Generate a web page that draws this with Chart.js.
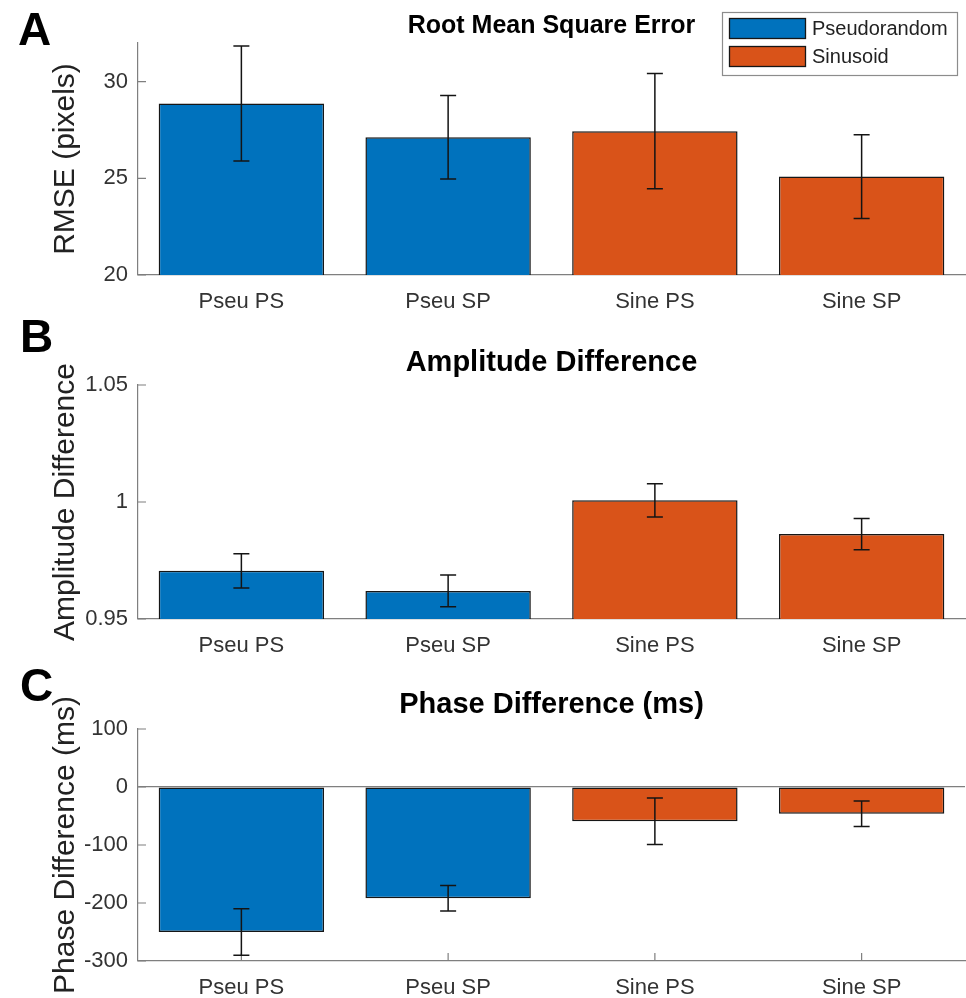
<!DOCTYPE html>
<html>
<head>
<meta charset="utf-8">
<script src="https://cdn.jsdelivr.net/npm/chart.js@4/dist/chart.umd.min.js"></script>
<style>
html,body{margin:0;padding:0;background:#fff;}
#wrap{position:relative;width:966px;height:998px;overflow:hidden;background:#fff;}
canvas{position:absolute;left:0;}
.panel{position:absolute;font-family:"Liberation Sans",Arial,Helvetica,sans-serif;font-weight:bold;font-size:46px;line-height:46px;color:#000;}
</style>
</head>
<body>
<div id="wrap">
  <canvas id="cA" width="966" height="330" style="top:0px"></canvas>
  <canvas id="cB" width="966" height="335" style="top:330px"></canvas>
  <canvas id="cC" width="966" height="333" style="top:665px"></canvas>
  <div class="panel" style="left:18px;top:6px">A</div>
  <div class="panel" style="left:20px;top:313px">B</div>
  <div class="panel" style="left:20px;top:662px">C</div>
</div>
<script>
// ---------- data ----------
const categories = ['Pseu PS', 'Pseu SP', 'Sine PS', 'Sine SP'];
const seriesNames = ['Pseudorandom', 'Sinusoid'];
const seriesOfCategory = [0, 0, 1, 1];

const rmseMean = [28.87, 27.13, 27.44, 25.09];
const rmseErr  = [2.97, 2.16, 2.98, 2.17];

const ampMean = [0.9706, 0.9620, 1.0007, 0.9863];
const ampErr  = [0.0073, 0.0068, 0.0071, 0.0067];

const phaseMean = [-250, -192, -59, -46];
const phaseErr  = [40, 22, 40, 22];

const rmseTicks = [20, 25, 30];
const rmseTickLabels = ['20', '25', '30'];
const ampTicks = [0.95, 1, 1.05];
const ampTickLabels = ['0.95', '1', '1.05'];
const phaseTicks = [-300, -200, -100, 0, 100];
const phaseTickLabels = ['-300', '-200', '-100', '0', '100'];

// ---------- style ----------
const FONT = '"Liberation Sans", Arial, Helvetica, sans-serif';
const seriesColors = ['#0072BD', '#D95319'];
const AXIS = '#7f7f7f';
const TEXT = '#333333';
Chart.defaults.font.family = FONT;

function makeDatasets(values) {
  return seriesNames.map((name, s) => ({
    label: name,
    data: values.map((v, i) => (seriesOfCategory[i] === s ? v : null)),
    backgroundColor: seriesColors[s],
    borderColor: '#161616',
    borderWidth: 1.5,
    borderSkipped: false,
    grouped: false,
    barPercentage: 0.8,
    categoryPercentage: 1.0
  }));
}

const decor = {
  id: 'decor',
  beforeDatasetsDraw(chart) {
    const {ctx, chartArea: a, scales: {x, y}} = chart;
    ctx.save();
    ctx.strokeStyle = AXIS;
    ctx.lineWidth = 1.2;
    ctx.beginPath();
    y.ticks.forEach(t => {
      const py = y.getPixelForValue(t.value);
      ctx.moveTo(a.left, py); ctx.lineTo(a.left + 8, py);
    });
    x.ticks.forEach((t, i) => {
      const px = x.getPixelForTick(i);
      ctx.moveTo(px, a.bottom); ctx.lineTo(px, a.bottom - 8);
    });
    ctx.stroke();
    ctx.restore();
  },
  afterDatasetsDraw(chart, args, opts) {
    const {ctx, scales: {x, y}} = chart;
    const means = opts.means, errs = opts.errors;
    if (!means) return;
    ctx.save();
    ctx.strokeStyle = '#141414';
    ctx.lineWidth = 1.5;
    means.forEach((m, i) => {
      const px = x.getPixelForValue(i);
      const top = y.getPixelForValue(m + errs[i]);
      const bot = y.getPixelForValue(m - errs[i]);
      ctx.beginPath();
      ctx.moveTo(px, top); ctx.lineTo(px, bot);
      ctx.moveTo(px - 8, top); ctx.lineTo(px + 8, top);
      ctx.moveTo(px - 8, bot); ctx.lineTo(px + 8, bot);
      ctx.stroke();
    });
    ctx.restore();
  },
  afterDraw(chart, args, opts) {
    if (!opts.legend) return;
    // legend box in the top-right corner, overlapping the title row
    const {ctx, chartArea: a} = chart;
    const ds = chart.data.datasets;
    const pad = 7, boxW = 77, boxH = 21, gap = 6, rowH = 21;
    ctx.save();
    ctx.font = '20px ' + FONT;
    let maxT = 0;
    ds.forEach(d => { maxT = Math.max(maxT, ctx.measureText(d.label).width); });
    const w = pad + boxW + gap + maxT + 9;
    const h = ds.length * rowH + (ds.length + 1) * pad;
    const left = Math.round(a.right - 8 - w);
    const top = Math.round(a.top - 31);
    ctx.fillStyle = '#ffffff';
    ctx.fillRect(left, top, w, h);
    ctx.strokeStyle = '#8c8c8c';
    ctx.lineWidth = 1.2;
    ctx.strokeRect(left + 0.5, top + 0.5, Math.round(w), Math.round(h));
    ds.forEach((d, i) => {
      const by = top + pad + i * (rowH + pad) - 1;
      ctx.fillStyle = d.backgroundColor;
      ctx.fillRect(left + pad, by, boxW, boxH);
      ctx.strokeStyle = d.borderColor;
      ctx.lineWidth = 1.3;
      ctx.strokeRect(left + pad + 0.5, by + 0.5, boxW - 1, boxH - 1);
      ctx.fillStyle = '#222';
      ctx.textBaseline = 'middle';
      ctx.textAlign = 'left';
      ctx.fillText(d.label, left + pad + boxW + gap, by + boxH / 2 + 1);
    });
    ctx.restore();
  }
};

function build(id, cfg) {
  const zeroLine = !!cfg.zeroLine;
  return new Chart(document.getElementById(id), {
    type: 'bar',
    data: { labels: categories, datasets: makeDatasets(cfg.means) },
    plugins: [decor],
    options: {
      responsive: false,
      animation: false,
      devicePixelRatio: 1,
      layout: { padding: { left: 0, right: 1, top: 0, bottom: 0 } },
      plugins: {
        legend: { display: false },
        tooltip: { enabled: false },
        title: {
          display: true,
          text: cfg.title,
          fullSize: false,
          color: '#000',
          font: { family: FONT, size: cfg.titleSize, weight: 'bold' },
          padding: cfg.titlePad
        },
        decor: { means: cfg.means, errors: cfg.errors, legend: !!cfg.legend }
      },
      scales: {
        x: {
          grid: { display: false },
          border: { display: true, color: AXIS, width: 1.2 },
          ticks: { font: { family: FONT, size: 22 }, color: TEXT, padding: 6, maxRotation: 0, autoSkip: false },
          afterFit: s => { s.height = cfg.xAxisHeight; }
        },
        y: {
          min: cfg.min,
          max: cfg.max,
          afterBuildTicks: s => { s.ticks = cfg.ticks.map(v => ({ value: v })); },
          afterFit: s => { s.width = 138; },
          grid: {
            display: zeroLine,
            drawTicks: false,
            lineWidth: 1.2,
            color: c => (c.tick && c.tick.value === 0 ? AXIS : 'rgba(0,0,0,0)')
          },
          border: { display: true, color: AXIS, width: 1.2 },
          ticks: {
            font: { family: FONT, size: 22 }, color: TEXT, padding: 10,
            callback: v => cfg.tickLabels[cfg.ticks.indexOf(v)]
          },
          title: {
            display: true,
            text: cfg.yTitle,
            color: '#222',
            font: { family: FONT, size: 30 },
            padding: { top: 48, bottom: 0 }
          }
        }
      }
    }
  });
}

build('cA', {
  means: rmseMean, errors: rmseErr, min: 20, max: 32,
  ticks: rmseTicks, tickLabels: rmseTickLabels,
  title: 'Root Mean Square Error', titleSize: 25, titlePad: { top: 11, bottom: 2 },
  yTitle: 'RMSE (pixels)', xAxisHeight: 55, legend: true
});
build('cB', {
  means: ampMean, errors: ampErr, min: 0.95, max: 1.05,
  ticks: ampTicks, tickLabels: ampTickLabels,
  title: 'Amplitude Difference', titleSize: 29, titlePad: { top: 15.6, bottom: 4.6 },
  yTitle: 'Amplitude Difference', xAxisHeight: 46
});
build('cC', {
  means: phaseMean, errors: phaseErr, min: -300, max: 100,
  ticks: phaseTicks, tickLabels: phaseTickLabels,
  title: 'Phase Difference (ms)', titleSize: 29, titlePad: { top: 22.6, bottom: 6.6 },
  yTitle: 'Phase Difference (ms)', xAxisHeight: 37, zeroLine: true
});
</script>
</body>
</html>
